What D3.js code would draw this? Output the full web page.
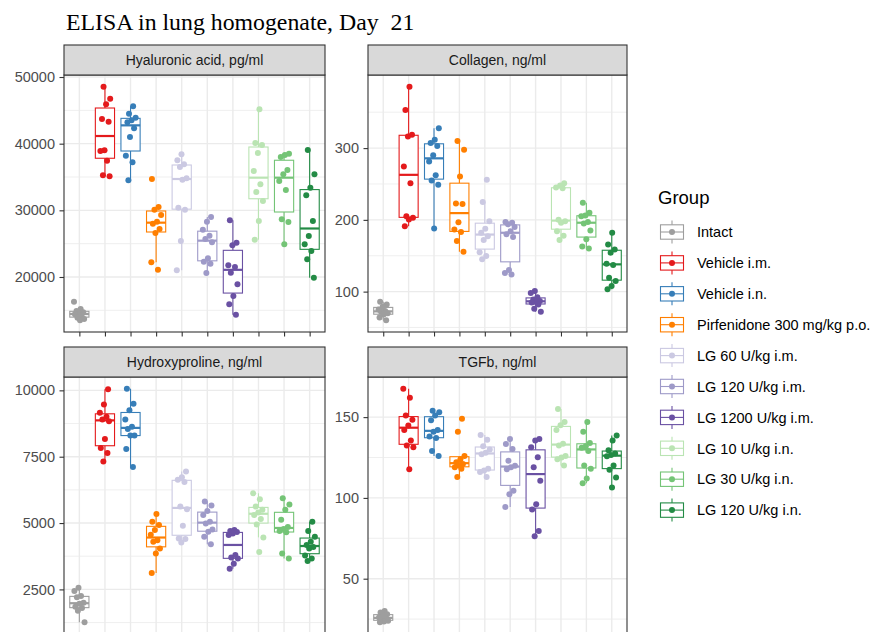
<!DOCTYPE html>
<html><head><meta charset="utf-8">
<script src="https://cdn.jsdelivr.net/npm/d3@7"></script>
<style>
body{margin:0;background:#fff}
svg{display:block}
text{font-family:"Liberation Sans",Arial,sans-serif}
</style>
</head><body>
<svg id="chart" width="874" height="632"></svg>
<script>
const chartTitle = "ELISA in lung homogenate, Day  21";
const groups = ["Intact","Vehicle i.m.","Vehicle i.n.","Pirfenidone 300 mg/kg p.o.","LG 60 U/kg i.m.","LG 120 U/kg i.m.","LG 1200 U/kg i.m.","LG 10 U/kg i.n.","LG 30 U/kg i.n.","LG 120 U/kg i.n."];
const groupColors = ["#9E9E9E","#E41A1C","#377EB8","#FF7F00","#CBC9E2","#9E9AC8","#6A51A3","#BAE4B3","#74C476","#238B45"];

const hyaluronic = [
  [16300,15200,14900,14700,14500,14400,14200,13900,13700,13500],
  [48550,46750,45900,43700,43300,39000,38900,37450,35250,35100],
  [45600,44500,43900,43500,43200,42300,41000,38200,37200,34500],
  [34700,30500,30100,29300,28300,28000,27200,26600,22200,21100],
  [38400,37500,36900,36500,34800,34600,30400,30100,25400,21000],
  [29000,28300,27100,26200,25700,25200,22800,22300,22000,20600],
  [28500,25150,24750,21750,21500,20650,18900,17150,15900,14350],
  [45150,40100,39800,38600,35900,33900,32750,31400,28400,25600],
  [38500,38300,38000,36050,35400,34400,33050,28650,28250,24900],
  [39050,35400,33400,32250,28400,26150,24900,23900,22650,19900]
];
const collagen = [
  [86,82,79,75,73,72,70,68,64,60],
  [385.6,353,318.5,316,274.5,251,205,203,200.5,191],
  [327.8,311.6,307,303,290,281.5,262,255,249,188],
  [310,297.7,260.6,222.7,222,196.8,186.6,183,170.4,155.6],
  [256,225,198,187.5,182,177,172,155,149.5,145],
  [197,196,194,190,184,180,176,130,126,124],
  [101,98,92,89,87,86,85,82,76,72],
  [251,248,245,244,200,198,196,184,178,172],
  [224,210,206,205,197,195,185,173,163,160],
  [182,165.7,158.8,154.2,139,137,119.4,114.8,107.9,103.2]
];
const hydroxyproline = [
  [2560,2440,2250,2200,2000,1960,1850,1800,1700,1260],
  [10038,9470,9154,9003,8900,8838,8169,7828,7639,7323],
  [10063,9495,9255,8900,8624,8548,8300,8295,7790,7109],
  [5341,5050,4924,4735,4560,4350,4293,4041,3851,3119],
  [6940,6730,6630,6550,5620,5520,4900,4420,4400,4270],
  [5810,5660,5450,5300,5050,4980,4760,4670,4480,4200],
  [4740,4700,4660,4610,4550,3800,3700,3660,3470,3280],
  [6120,5900,5620,5500,5400,5300,5150,4950,4460,3910],
  [5930,5700,5500,5120,4850,4780,4700,4650,3850,3660],
  [5050,4700,4480,4300,4170,4100,4040,3780,3660,3570]
];
const tgfb = [
  [30,29,28,27,26,25.5,25,24,23.5,23],
  [167.6,162,151,148.3,144.8,142.1,135.5,132.4,131.3,117.8],
  [154,153,151,148,142,141,138,137,129,126],
  [149,141,126,124,122,121,120,119,118,113],
  [139,136,132,130,128,127,118,117,116,113],
  [136.5,133.4,130.3,123,119.9,118.9,117.8,104.4,102.3,94.4],
  [136.5,135.5,131.3,125.1,118.9,110.6,96.1,92.9,79.5,76.3],
  [155,147,145,142,133.5,132.5,126,125,124,120],
  [147,141,134,132,131,129,120,118,112,109],
  [138.6,135.5,129.5,127.5,126.5,125.8,120,117.5,112.7,106.4]
];
const haTicks = [20000,30000,40000,50000];
const collagenTicks = [100,200,300];
const hypTicks = [2500,5000,7500,10000];
const tgfbTicks = [50,100,150];
const panelTitles = ["Hyaluronic acid, pg/ml","Collagen, ng/ml","Hydroxyproline, ng/ml","TGFb, ng/ml"];

const panels = [
  {title: panelTitles[0], values: hyaluronic, ticks: haTicks, col: 0, row: 0},
  {title: panelTitles[1], values: collagen, ticks: collagenTicks, col: 1, row: 0},
  {title: panelTitles[2], values: hydroxyproline, ticks: hypTicks, col: 0, row: 1},
  {title: panelTitles[3], values: tgfb, ticks: tgfbTicks, col: 1, row: 1}
];

// layout
const colX = [[64,325],[368,627]];
const rowY = [{strip:45, top:75, bottom:332},{strip:347, top:377, bottom:634}];
const svg = d3.select("#chart");
svg.append("rect").attr("width",874).attr("height",632).attr("fill","#fff");

svg.append("text").attr("x",66).attr("y",30)
  .style("font-family",'"Liberation Serif","Times New Roman",serif')
  .style("font-size","23.8px").style("white-space","pre").attr("fill","#000")
  .text(chartTitle);

function boxStats(vals){
  const s = vals.slice().sort(d3.ascending);
  const q1 = d3.quantile(s,0.25), med = d3.quantile(s,0.5), q3 = d3.quantile(s,0.75);
  const iqr = q3-q1;
  const lo = d3.min(s.filter(v=>v>=q1-1.5*iqr));
  const hi = d3.max(s.filter(v=>v<=q3+1.5*iqr));
  return {q1,med,q3,lo,hi};
}

panels.forEach((p,pi)=>{
  const [x0,x1] = colX[p.col];
  const r = rowY[p.row];
  const all = p.values.flat();
  const ext = d3.extent(all);
  const pad = (ext[1]-ext[0])*0.05;
  const y = d3.scaleLinear().domain([ext[0]-pad, ext[1]+pad]).range([r.bottom, r.top]);
  const x = d3.scalePoint().domain(groups).range([x0,x1]).padding(0.6);
  const step = x.step();

  const g = svg.append("g");
  const clipId = "clip"+pi;
  g.append("clipPath").attr("id",clipId).append("rect")
    .attr("x",x0).attr("y",r.top).attr("width",x1-x0).attr("height",r.bottom-r.top);

  // grid
  const grid = g.append("g").attr("clip-path",`url(#${clipId})`);
  const tstep = p.ticks[1]-p.ticks[0];
  const minor = [];
  for(let v=p.ticks[0]-tstep/2; v<=y.domain()[1]; v+=tstep){ if(v>=y.domain()[0]) minor.push(v); }
  grid.selectAll(".mn").data(minor).join("line")
    .attr("x1",x0).attr("x2",x1).attr("y1",d=>y(d)).attr("y2",d=>y(d))
    .attr("stroke","#EBEBEB").attr("stroke-width",0.8);
  grid.selectAll(".mj").data(p.ticks).join("line")
    .attr("x1",x0).attr("x2",x1).attr("y1",d=>y(d)).attr("y2",d=>y(d))
    .attr("stroke","#EBEBEB").attr("stroke-width",1.4);
  grid.selectAll(".vx").data(groups).join("line")
    .attr("x1",d=>x(d)).attr("x2",d=>x(d)).attr("y1",r.top).attr("y2",r.bottom)
    .attr("stroke","#EBEBEB").attr("stroke-width",1.4);

  // boxes
  const bw = step*0.75;
  const marks = g.append("g").attr("clip-path",`url(#${clipId})`);
  groups.forEach((grp,gi)=>{
    const st = boxStats(p.values[gi]);
    const cx = x(grp);
    const col = groupColors[gi];
    const bg = marks.append("g");
    bg.append("line").attr("x1",cx).attr("x2",cx).attr("y1",y(st.q3)).attr("y2",y(st.hi))
      .attr("stroke",col).attr("stroke-width",1.1);
    bg.append("line").attr("x1",cx).attr("x2",cx).attr("y1",y(st.q1)).attr("y2",y(st.lo))
      .attr("stroke",col).attr("stroke-width",1.1);
    bg.append("rect").attr("x",cx-bw/2).attr("width",bw)
      .attr("y",y(st.q3)).attr("height",Math.max(0.5,y(st.q1)-y(st.q3)))
      .attr("fill","#fff").attr("stroke",col).attr("stroke-width",1.1);
    bg.append("line").attr("x1",cx-bw/2).attr("x2",cx+bw/2).attr("y1",y(st.med)).attr("y2",y(st.med))
      .attr("stroke",col).attr("stroke-width",2.2);
  });
  groups.forEach((grp,gi)=>{
    const cx = x(grp);
    marks.selectAll(null).data(p.values[gi]).join("circle")
      .attr("cx",(d,i)=>cx + (((i*0.618 + gi*0.37 + pi*0.21) % 1) - 0.5)*0.42*step)
      .attr("cy",d=>y(d)).attr("r",3).attr("fill",groupColors[gi]);
  });

  // border
  g.append("rect").attr("x",x0).attr("y",r.top).attr("width",x1-x0).attr("height",r.bottom-r.top)
    .attr("fill","none").attr("stroke","#333333").attr("stroke-width",1.1);

  // strip
  g.append("rect").attr("x",x0).attr("y",r.strip).attr("width",x1-x0).attr("height",r.top-r.strip)
    .attr("fill","#D9D9D9").attr("stroke","#333333").attr("stroke-width",1.1);
  g.append("text").attr("x",(x0+x1)/2).attr("y",(r.strip+r.top)/2).attr("dy","0.36em")
    .attr("text-anchor","middle").style("font-size","14px").attr("fill","#1A1A1A").text(p.title);

  // y axis
  const yAxis = d3.axisLeft(y).tickValues(p.ticks).tickSize(4.5).tickPadding(4.5).tickFormat(d3.format("d"));
  const ya = g.append("g").attr("transform",`translate(${x0},0)`).call(yAxis);
  ya.select(".domain").remove();
  ya.selectAll(".tick line").attr("stroke","#333333").attr("stroke-width",1.1);
  ya.selectAll(".tick text").style("font-size","14.5px").attr("fill","#4D4D4D")
    .style("font-family",'"Liberation Sans",Arial,sans-serif');

  // x axis ticks
  const xAxis = d3.axisBottom(x).tickSize(4.5).tickFormat("");
  const xa = g.append("g").attr("transform",`translate(0,${r.bottom})`).call(xAxis);
  xa.select(".domain").remove();
  xa.selectAll(".tick line").attr("stroke","#333333").attr("stroke-width",1.1);
});

// legend
const leg = svg.append("g");
leg.append("text").attr("x",658).attr("y",204).style("font-size","18.5px").attr("fill","#000").text("Group");
groups.forEach((grp,i)=>{
  const cy = 232 + i*30.9;
  const cx = 672;
  const col = groupColors[i];
  const k = leg.append("g");
  k.append("line").attr("x1",cx).attr("x2",cx).attr("y1",cy-11.5).attr("y2",cy+11.5).attr("stroke",col).attr("stroke-width",1.1);
  k.append("rect").attr("x",cx-11.5).attr("y",cy-7.2).attr("width",23).attr("height",14.4)
    .attr("fill","#fff").attr("stroke",col).attr("stroke-width",1.1);
  k.append("line").attr("x1",cx-11.5).attr("x2",cx+11.5).attr("y1",cy).attr("y2",cy).attr("stroke",col).attr("stroke-width",1.1);
  k.append("circle").attr("cx",cx).attr("cy",cy).attr("r",3).attr("fill",col);
  leg.append("text").attr("x",697).attr("y",cy).attr("dy","0.36em").style("font-size","14.5px").attr("fill","#000").text(grp);
});
</script>
</body></html>
